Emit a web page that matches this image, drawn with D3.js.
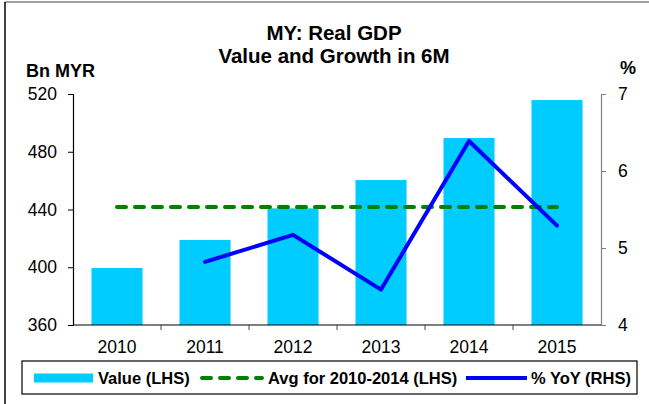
<!DOCTYPE html>
<html>
<head>
<meta charset="utf-8">
<script src="https://cdn.jsdelivr.net/npm/d3@7"></script>
<style>
  body { margin: 0; background: #fff; }
  svg { font-family: "Liberation Sans", Arial, sans-serif; }
</style>
</head>
<body>
<svg id="chart" width="649" height="404"></svg>
<script>
// data
const years = ["2010", "2011", "2012", "2013", "2014", "2015"];
const gdpValue = [399.5, 418.9, 440.8, 460.4, 489.5, 515.8];
const yoyGrowth = [null, 4.82, 5.17, 4.46, 6.39, 5.29];
const avgValue = 441.8;
const leftTicks = [360, 400, 440, 480, 520];
const rightTicks = [4, 5, 6, 7];

const svg = d3.select("#chart");

// outer frame
svg.append("line").attr("x1", 5).attr("y1", 2).attr("x2", 649).attr("y2", 2)
  .attr("stroke", "#808080").attr("stroke-width", 1.5);
svg.append("line").attr("x1", 5).attr("y1", 2).attr("x2", 5).attr("y2", 404)
  .attr("stroke", "#000").attr("stroke-width", 1.5);

const margin = { top: 94, right: 48, bottom: 79, left: 73 };
const width = 649 - margin.left - margin.right;
const height = 404 - margin.top - margin.bottom;

const g = svg.append("g").attr("transform", `translate(${margin.left},${margin.top})`);

// scales
const x = d3.scaleBand().domain(years).range([0, width])
  .paddingInner(0.42).paddingOuter(0.21);
const xc = d => x(d) + x.bandwidth() / 2;
const yL = d3.scaleLinear().domain([360, 520]).range([height, 0]);
const yR = d3.scaleLinear().domain([4, 7]).range([height, 0]);

// bars
g.selectAll(".bar")
  .data(years)
  .enter()
  .append("rect")
  .attr("class", "bar")
  .attr("x", d => x(d))
  .attr("y", (d, i) => yL(gdpValue[i]))
  .attr("width", x.bandwidth())
  .attr("height", (d, i) => height - yL(gdpValue[i]))
  .attr("fill", "#00CCFF");

// average line
g.append("line")
  .attr("x1", xc(years[0])).attr("x2", xc(years[years.length - 1]))
  .attr("y1", yL(avgValue)).attr("y2", yL(avgValue))
  .attr("stroke", "#008000").attr("stroke-width", 4)
  .attr("stroke-dasharray", "9,9").attr("stroke-linecap", "round");

// yoy line
const line = d3.line()
  .defined(d => d[1] != null)
  .x(d => xc(d[0]))
  .y(d => yR(d[1]));
g.append("path")
  .datum(years.map((d, i) => [d, yoyGrowth[i]]))
  .attr("d", line)
  .attr("fill", "none")
  .attr("stroke", "#0000FF")
  .attr("stroke-width", 4)
  .attr("stroke-linejoin", "round")
  .attr("stroke-linecap", "round");

// left axis
g.append("g")
  .call(d3.axisLeft(yL).tickValues(leftTicks).tickSize(5).tickPadding(11))
  .call(a => a.select(".domain").attr("stroke", "#000").attr("stroke-width", 1.2))
  .call(a => a.selectAll("text").attr("font-size", 17.5).attr("fill", "#000"));

// right axis
g.append("g")
  .attr("transform", `translate(${width},0)`)
  .call(d3.axisRight(yR).tickValues(rightTicks).tickFormat(d3.format("d"))
    .tickSize(5).tickPadding(12))
  .call(a => a.select(".domain").attr("stroke", "#808080").attr("stroke-width", 1.2))
  .call(a => a.selectAll(".tick line").attr("stroke", "#808080"))
  .call(a => a.selectAll("text").attr("font-size", 17.5).attr("fill", "#000"));

// bottom axis, ticks between categories
const xAxis = g.append("g").attr("transform", `translate(0,${height})`);
xAxis.append("line").attr("x1", 0).attr("x2", width)
  .attr("stroke", "#000").attr("stroke-width", 1.2);
xAxis.selectAll(".sep")
  .data(years.slice(1))
  .enter()
  .append("line")
  .attr("x1", d => x(d) - x.step() * x.paddingInner() / 2)
  .attr("x2", d => x(d) - x.step() * x.paddingInner() / 2)
  .attr("y1", 0).attr("y2", 5)
  .attr("stroke", "#444");
xAxis.selectAll(".yr")
  .data(years)
  .enter()
  .append("text")
  .attr("x", d => xc(d))
  .attr("y", 28)
  .attr("text-anchor", "middle")
  .attr("font-size", 17.5)
  .text(d => d);

// titles
svg.append("text").attr("x", 334).attr("y", 40).attr("text-anchor", "middle")
  .attr("font-size", 20.5).attr("font-weight", "bold").text("MY: Real GDP");
svg.append("text").attr("x", 334).attr("y", 63).attr("text-anchor", "middle")
  .attr("font-size", 20.5).attr("font-weight", "bold").text("Value and Growth in 6M");
svg.append("text").attr("x", 26).attr("y", 77)
  .attr("font-size", 18).attr("font-weight", "bold").text("Bn MYR");
svg.append("text").attr("x", 620).attr("y", 74)
  .attr("font-size", 18).attr("font-weight", "bold").text("%");

// legend
const lg = svg.append("g");
lg.append("rect").attr("x", 22).attr("y", 361).attr("width", 615).attr("height", 33)
  .attr("fill", "#fff").attr("stroke", "#000").attr("stroke-width", 1.2);
const ly = 378;
lg.append("rect").attr("x", 34).attr("y", ly - 4.5).attr("width", 59).attr("height", 9)
  .attr("fill", "#00CCFF");
lg.append("line").attr("x1", 202).attr("x2", 262).attr("y1", ly).attr("y2", ly)
  .attr("stroke", "#008000").attr("stroke-width", 4)
  .attr("stroke-dasharray", "9,9").attr("stroke-linecap", "round");
lg.append("line").attr("x1", 466).attr("x2", 527).attr("y1", ly).attr("y2", ly)
  .attr("stroke", "#0000FF").attr("stroke-width", 4);
const legendLabels = [
  { t: "Value (LHS)", x: 98 },
  { t: "Avg for 2010-2014 (LHS)", x: 268 },
  { t: "% YoY (RHS)", x: 531 }
];
lg.selectAll(".lt")
  .data(legendLabels)
  .enter()
  .append("text")
  .attr("x", d => d.x)
  .attr("y", ly + 6)
  .attr("font-size", 16.5)
  .attr("font-weight", "bold")
  .text(d => d.t);
</script>
</body>
</html>
